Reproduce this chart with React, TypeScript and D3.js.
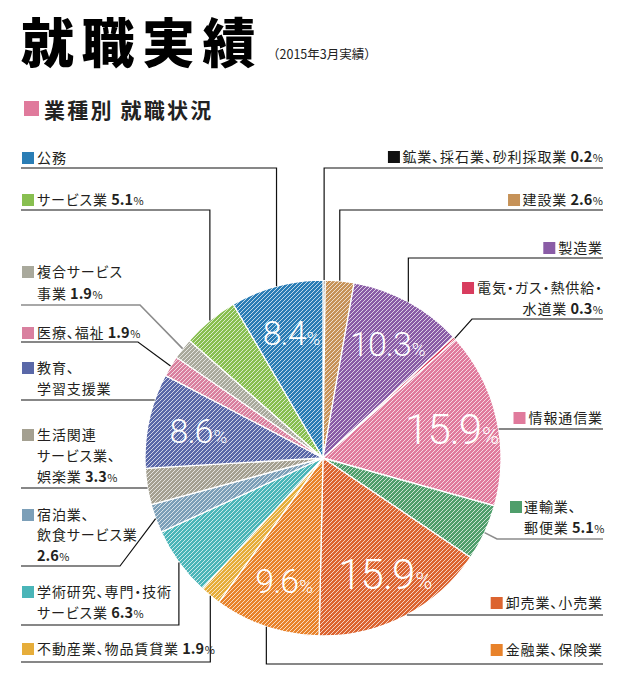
import React, { useEffect, useRef } from "react";
import * as d3 from "d3";

const categories = [
  "鉱業、採石業、砂利採取業", "建設業", "製造業", "電気・ガス・熱供給・水道業", "情報通信業",
  "運輸業、郵便業", "卸売業、小売業", "金融業、保険業", "不動産業、物品賃貸業",
  "学術研究、専門・技術サービス業", "宿泊業、飲食サービス業", "生活関連サービス業、娯楽業",
  "教育、学習支援業", "医療、福祉", "複合サービス事業", "サービス業", "公務",
];
const values = [0.2, 2.6, 10.3, 0.3, 15.9, 5.1, 15.9, 9.6, 1.9, 6.3, 2.6, 3.3, 8.6, 1.9, 1.9, 5.1, 8.4];
const colors = [
  "#111111", "#c69258", "#8a5ca6", "#d83c5e", "#e07a9c", "#4f9e6b", "#dc6430", "#e8822a",
  "#e6ad3a", "#4ab5b8", "#7c9fb8", "#a4a091", "#5a68a8", "#d9809f", "#a9a99c", "#88bf50", "#2a7db5",
];
const labelLines = [
  ["鉱業、採石業、砂利採取業"], ["建設業"], ["製造業"], ["電気・ガス・熱供給・", "水道業"], ["情報通信業"],
  ["運輸業、", "郵便業"], ["卸売業、小売業"], ["金融業、保険業"], ["不動産業、物品賃貸業"],
  ["学術研究、専門・技術", "サービス業"], ["宿泊業、", "飲食サービス業", ""], ["生活関連", "サービス業、", "娯楽業"],
  ["教育、", "学習支援業"], ["医療、福祉"], ["複合サービス", "事業"], ["サービス業"], ["公務"],
];
const insideThreshold = 8;
const titleText = "就職実績";
const subtitleText = "（2015年3月実績）";
const headingText = "業種別 就職状況";

type Lay = { side: "L" | "R"; ys: number[]; ly: number; type: "v" | "h" | "d"; ex?: number; grey?: boolean; startX?: number };
const layout: Lay[] = [
  { side: "R", ys: [157], ly: 168, type: "v" },
  { side: "R", ys: [200], ly: 210, type: "v" },
  { side: "R", ys: [248], ly: 258, type: "v" },
  { side: "R", ys: [288, 309], ly: 319, type: "d", ex: 472 },
  { side: "R", ys: [418], ly: 429, type: "h" },
  { side: "R", ys: [507, 528], ly: 539, type: "d", ex: 497, grey: true, startX: 524 },
  { side: "R", ys: [603], ly: 615, type: "h" },
  { side: "R", ys: [650], ly: 664, type: "v" },
  { side: "L", ys: [649], ly: 662, type: "v" },
  { side: "L", ys: [592, 613], ly: 625, type: "v" },
  { side: "L", ys: [515, 535, 556], ly: 566, type: "d", ex: 120 },
  { side: "L", ys: [435, 456, 477], ly: 488, type: "h" },
  { side: "L", ys: [368, 389], ly: 400, type: "h" },
  { side: "L", ys: [333], ly: 342, type: "d", ex: 138 },
  { side: "L", ys: [272, 294], ly: 305, type: "d", ex: 140, grey: true },
  { side: "L", ys: [200], ly: 210, type: "v" },
  { side: "L", ys: [158], ly: 168, type: "v" },
];

const W = 622, H = 695;
const CX = 323, CY = 458, R = 178;
const LEFT = 21, RIGHT = 603;
const JP = "'Noto Sans CJK JP', 'Noto Sans', sans-serif";

export default function App() {
  const ref = useRef<SVGSVGElement>(null);
  useEffect(() => {
    const svg = d3.select(ref.current);
    svg.selectAll("*").remove();
    const defs = svg.append("defs");
    colors.forEach((c, i) => {
      const p = defs.append("pattern").attr("id", "hatch" + i).attr("patternUnits", "userSpaceOnUse")
        .attr("width", 4).attr("height", 4);
      p.append("rect").attr("width", 4).attr("height", 4).attr("fill", c);
      p.append("path").attr("d", "M-1,1 L1,-1 M0,4 L4,0 M3,5 L5,3")
        .attr("stroke", "#ffffff").attr("stroke-opacity", 0.75).attr("stroke-width", 0.95);
    });

    // title
    svg.append("text").attr("x", 21).attr("y", 63).attr("font-family", JP).attr("font-weight", 900)
      .attr("font-size", 53).attr("letter-spacing", 7.5).attr("fill", "#000").text(titleText);
    svg.append("text").attr("x", 267).attr("y", 59).attr("font-family", JP).attr("font-size", 12.5)
      .attr("fill", "#222").attr("letter-spacing", 0).text(subtitleText);
    svg.append("rect").attr("x", 24).attr("y", 101).attr("width", 15).attr("height", 15).attr("fill", "#e07a9c");
    svg.append("text").attr("x", 44).attr("y", 118).attr("font-family", JP).attr("font-weight", 700)
      .attr("font-size", 21).attr("letter-spacing", 2.2).attr("fill", "#222").text(headingText);

    // pie
    const pie = d3.pie<number>().sort(null).value((d) => d);
    const arcs = pie(values);
    const arc = d3.arc<d3.PieArcDatum<number>>().innerRadius(0).outerRadius(R);
    const g = svg.append("g").attr("transform", `translate(${CX},${CY})`);
    g.selectAll("path.slice").data(arcs).join("path").attr("class", "slice")
      .attr("d", arc as any).attr("fill", (_d, i) => `url(#hatch${i})`)
      .attr("stroke", "#fff").attr("stroke-width", 1.3);

    // inner labels
    const labelArc = d3.arc<d3.PieArcDatum<number>>().innerRadius(130).outerRadius(130);
    arcs.forEach((a, i) => {
      if (values[i] < insideThreshold) return;
      const [x, y] = labelArc.centroid(a);
      const fs = values[i] > 12 ? 42 : 34;
      const t = g.append("text").attr("x", x + 2).attr("y", y + fs * 0.36).attr("text-anchor", "middle")
        .attr("font-family", "Roboto, 'DejaVu Sans', sans-serif").attr("font-weight", 300)
        .attr("fill", "#fff").attr("font-size", fs).attr("letter-spacing", -1);
      t.append("tspan").text(values[i].toFixed(1));
      t.append("tspan").attr("font-size", fs * 0.55).attr("dx", 1).text("%");
    });

    // leaders
    const mid = (a: d3.PieArcDatum<number>) => (a.startAngle + a.endAngle) / 2;
    const onCircle = (ang: number) => [CX + R * Math.sin(ang), CY - R * Math.cos(ang)];
    arcs.forEach((a, i) => {
      const L = layout[i];
      const edge = L.side === "L" ? LEFT : RIGHT;
      let pts: number[][];
      if (L.type === "h") {
        const dx = Math.sqrt(R * R - (L.ly - CY) ** 2);
        pts = [[edge, L.ly], [L.side === "L" ? CX - dx : CX + dx, L.ly]];
      } else if (L.type === "v") {
        const [px, py] = onCircle(mid(a));
        pts = [[edge, L.ly], [px, L.ly], [px, py]];
      } else {
        const [px, py] = onCircle(mid(a));
        pts = [[edge, L.ly], [L.ex!, L.ly], [px, py]];
      }
      svg.append("path").attr("d", d3.line()(pts as [number, number][]))
        .attr("fill", "none").attr("stroke", L.grey ? "#8c8c8c" : "#111").attr("stroke-width", L.grey ? 1.6 : 1.2);
    });

    // outer labels
    categories.forEach((_c, i) => {
      const L = layout[i];
      const lines = labelLines[i];
      const showVal = values[i] < insideThreshold;
      const texts: SVGTextElement[] = [];
      lines.forEach((ln, j) => {
        const isLast = j === lines.length - 1;
        let x: number, anchor: string;
        if (L.side === "L") { x = 37; anchor = "start"; }
        else if (L.startX) { x = L.startX; anchor = "start"; }
        else { x = RIGHT; anchor = "end"; }
        const t = svg.append("text").attr("x", x).attr("y", L.ys[j] + 5).attr("text-anchor", anchor)
          .attr("font-family", JP).attr("font-size", 14).attr("letter-spacing", 0.9).attr("fill", "#231f20")
          .style("font-feature-settings", "'palt' 1");
        if (ln) t.append("tspan").text(ln);
        if (isLast && showVal) {
          t.append("tspan").attr("font-weight", 700).attr("letter-spacing", 0).attr("font-size", 14.5)
            .text((ln ? " " : "") + values[i].toFixed(1));
          t.append("tspan").attr("font-size", 11).attr("letter-spacing", 0).attr("dx", 0.5).text("%");
        }
        texts.push(t.node() as SVGTextElement);
      });
      let sx: number;
      if (L.side === "L") sx = 22;
      else if (L.startX) sx = L.startX - 14;
      else {
        const w = texts[0].getComputedTextLength();
        sx = RIGHT - w - 15;
      }
      svg.append("rect").attr("x", sx).attr("y", L.ys[0] - 6).attr("width", 12).attr("height", 12).attr("fill", colors[i]);
    });
  }, []);
  return (
    <svg ref={ref} width={W} height={H} viewBox={`0 0 ${W} ${H}`}
      style={{ position: "absolute", left: 0, top: 0, background: "#fff", display: "block" }} />
  );
}
